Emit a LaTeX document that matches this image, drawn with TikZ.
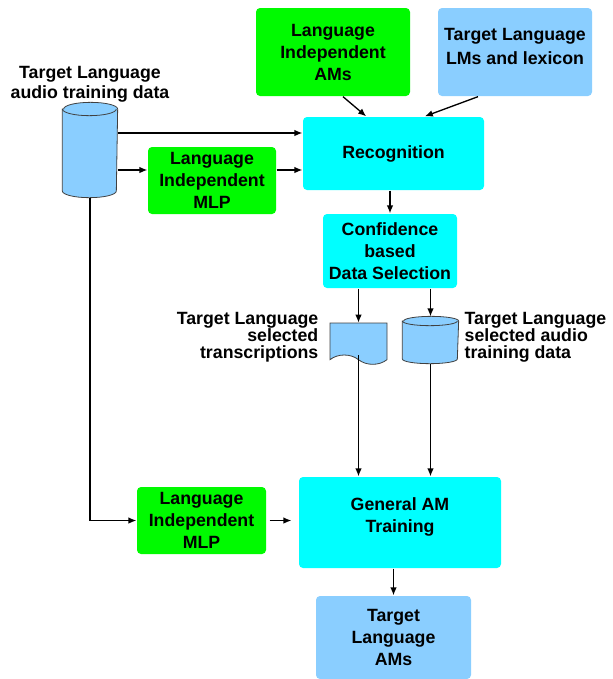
\documentclass[tikz,border=0pt]{standalone}
\usepackage{fontspec}
\setmainfont{Liberation Sans}
\usetikzlibrary{shapes.symbols,arrows.meta}
\definecolor{ligreen}{RGB}{0,250,0}
\definecolor{tlblue}{RGB}{138,206,255}
\definecolor{procaqua}{RGB}{0,255,255}
\newcommand{\txt}{\fontsize{13.3}{16.5}\selectfont\bfseries}
\newcommand{\lbltxt}{\fontsize{13.3}{12.75}\selectfont\bfseries}
% cylinder drawn round a named node: node, x radius, y radius
\newcommand{\drawcyl}[3]{%
  \draw[cylline, fill=tlblue] ([yshift=-#3]#1.north west) -- ([yshift=#3]#1.south west)
    arc[start angle=180, end angle=360, x radius=#2, y radius=#3]
    -- ([yshift=-#3]#1.north east)
    arc[start angle=0, end angle=180, x radius=#2, y radius=#3] -- cycle;
  \draw[cylline] ([yshift=-#3]#1.north west)
    arc[start angle=180, end angle=360, x radius=#2, y radius=#3];
}
\tikzset{
  box/.style={rectangle, rounded corners=3pt, align=center, font=\txt, inner sep=0pt},
  libox/.style={box, fill=ligreen},
  tlbox/.style={box, fill=tlblue},
  procbox/.style={box, fill=procaqua},
  cylnode/.style={rectangle, inner sep=0pt},
  cylline/.style={draw=black!75, line width=0.6pt},
  doc/.style={tape, tape bend top=none, tape bend bottom=out and in, tape bend height=7pt, draw=black!75, fill=tlblue, line width=0.6pt, inner sep=0pt},
  lbl/.style={font=\lbltxt, inner sep=0pt},
}
\begin{document}
\begin{tikzpicture}[x=0.75pt, y=-0.75pt, >={Latex[length=6pt,width=5pt]}, line width=1pt]
    \useasboundingbox (0,0) rectangle (612,679);
    % inputs of the recognition step
    \node[libox, minimum width=115.5pt, minimum height=66pt] (amLI) at (333,52) {Language\\Independent\\AMs};
    \node[tlbox, minimum width=115.5pt, minimum height=66pt, font=\fontsize{13.3}{18}\selectfont\bfseries] (lmTL) at (515,52) {Target Language\\LMs and lexicon\\[-10pt]};
    \node[cylnode, minimum width=40.5pt, minimum height=70.5pt] (audioTL) at (90,150) {};
    \drawcyl{audioTL}{20.25pt}{5pt}
    \node[lbl, align=center, font=\fontsize{13.3}{15}\selectfont\bfseries] (audioLbl) at (90,84) {Target Language\\audio training data};
    \node[libox, minimum width=96pt, minimum height=50.25pt] (mlpA) at (212,180.5) {Language\\Independent\\MLP};
    \node[procbox, minimum width=135.75pt, minimum height=54.75pt] (recog) at (393.5,153.5) {Recognition};
    % data selection
    \node[procbox, minimum width=100.5pt, minimum height=55.5pt] (confSel) at (390,251) {Confidence\\based\\Data Selection};
    \node[doc, minimum width=42.75pt, minimum height=31pt] (transSel) at (358.5,339) {};
    \node[lbl, align=right, anchor=east] (transLbl) at (319,337) {Target Language\\selected\\transcriptions};
    \node[cylnode, minimum width=41.25pt, minimum height=34.5pt] (audioSel) at (430.5,340) {};
    \drawcyl{audioSel}{20.625pt}{3.5pt}
    \node[lbl, align=left, anchor=west] (audioSelLbl) at (464,337) {Target Language\\selected audio\\training data};
    % training
    \node[libox, minimum width=96.75pt, minimum height=50.25pt] (mlpB) at (201.5,520.5) {Language\\Independent\\MLP};
    \node[procbox, minimum width=151.5pt, minimum height=68.25pt] (genAM) at (400,522.5) {General AM\\Training\\[-6pt]};
    \node[tlbox, minimum width=116.25pt, minimum height=62.25pt] (amTL) at (393.5,637.5) {Target\\Language\\AMs};
    % connectors
    \coordinate (rowA) at (0,133);
    \coordinate (rowB) at (0,170);
    \draw[->] (audioTL.east |- rowA) -- (recog.west |- rowA);
    \draw[->] (audioTL.east |- rowB) -- (mlpA.west |- rowB);
    \draw[->] (mlpA.east |- rowB) -- (recog.west |- rowB);
    \draw[->] ([xshift=7.5pt]amLI.south) -- ([xshift=-20.5pt]recog.north);
    \draw[->] ([xshift=-27.75pt]lmTL.south) -- ([xshift=23.5pt]recog.north);
    \draw[->] (recog.south -| confSel.north) -- (confSel.north);
    \draw[->] (confSel.south -| transSel.north) -- (transSel.north);
    \draw[->] (confSel.south -| audioSel.north) -- (audioSel.north);
    \draw[->] (transSel.south) -- (transSel.south |- genAM.north);
    \draw[->] (audioSel.south) -- (audioSel.south |- genAM.north);
    \draw[->] (audioTL.south) |- (mlpB.west);
    \draw[->, shorten <=2.25pt, shorten >=5.25pt] (mlpB.east) -- (mlpB.east -| genAM.west);
    \draw[->] (genAM.south -| amTL.north) -- (amTL.north);
\end{tikzpicture}
\end{document}
